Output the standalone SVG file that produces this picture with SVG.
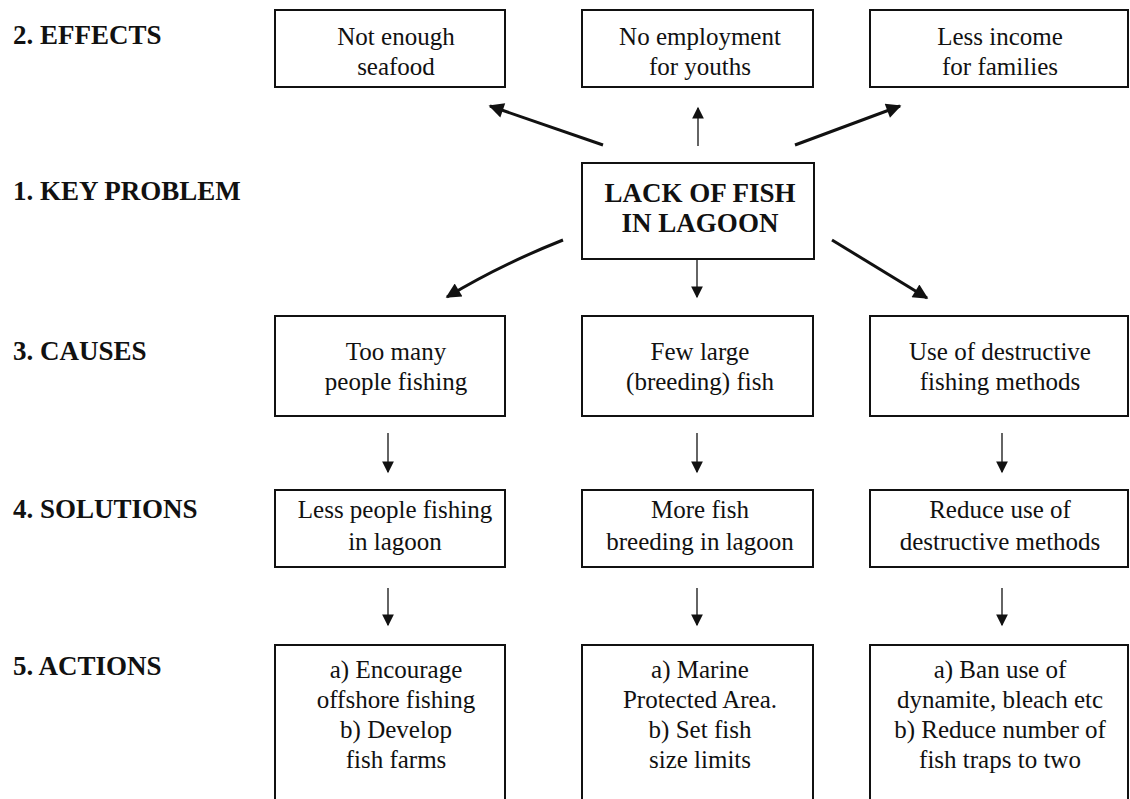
<svg xmlns="http://www.w3.org/2000/svg" width="1130" height="799" viewBox="0 0 1130 799">
<style>
.box{fill:#fff;stroke:#111;stroke-width:2}
.t{font-family:"Liberation Serif","Times New Roman",serif;font-size:25px;fill:#111;text-anchor:middle}
.kt{font-family:"Liberation Serif","Times New Roman",serif;font-size:27px;font-weight:bold;fill:#111;text-anchor:middle}
.lbl{font-family:"Liberation Serif","Times New Roman",serif;font-size:27px;font-weight:bold;fill:#111}
.thick{fill:none;stroke:#111;stroke-width:3}
.thin{fill:none;stroke:#111;stroke-width:1.3}
</style>
<defs>
<marker id="big" viewBox="0 0 10 10" refX="9" refY="5" markerWidth="6" markerHeight="5" orient="auto" markerUnits="strokeWidth">
<path d="M0,0 L10,5 L0,10 z" fill="#111"/>
</marker>
<marker id="small" viewBox="0 0 10 10" refX="9" refY="5" markerWidth="11" markerHeight="9" orient="auto" markerUnits="strokeWidth">
<path d="M0,0 L10,5 L0,10 z" fill="#111"/>
</marker>
</defs>

<g id="labels">
<text class="lbl" x="13" y="44">2. EFFECTS</text>
<text class="lbl" x="13" y="200">1. KEY PROBLEM</text>
<text class="lbl" x="13" y="360">3. CAUSES</text>
<text class="lbl" x="13" y="518">4. SOLUTIONS</text>
<text class="lbl" x="13" y="675">5. ACTIONS</text>
</g>

<g id="effect1"><rect class="box" x="275" y="10" width="230" height="77"/>
<text class="t" x="396" y="45">Not enough</text><text class="t" x="396" y="75">seafood</text></g>
<g id="effect2"><rect class="box" x="582" y="10" width="231" height="77"/>
<text class="t" x="700" y="45">No employment</text><text class="t" x="700" y="75">for youths</text></g>
<g id="effect3"><rect class="box" x="870" y="10" width="258" height="77"/>
<text class="t" x="1000" y="45">Less income</text><text class="t" x="1000" y="75">for families</text></g>

<g id="key"><rect class="box" x="582" y="163" width="232" height="96"/>
<text class="kt" x="700" y="202">LACK OF FISH</text><text class="kt" x="700" y="232">IN LAGOON</text></g>

<g id="cause1"><rect class="box" x="275" y="316" width="230" height="100"/>
<text class="t" x="396" y="360">Too many</text><text class="t" x="396" y="390">people fishing</text></g>
<g id="cause2"><rect class="box" x="582" y="316" width="231" height="100"/>
<text class="t" x="700" y="360">Few large</text><text class="t" x="700" y="390">(breeding) fish</text></g>
<g id="cause3"><rect class="box" x="870" y="316" width="258" height="100"/>
<text class="t" x="1000" y="360">Use of destructive</text><text class="t" x="1000" y="390">fishing methods</text></g>

<g id="solution1"><rect class="box" x="275" y="490" width="230" height="77"/>
<text class="t" x="395" y="518">Less people fishing</text><text class="t" x="395" y="550">in lagoon</text></g>
<g id="solution2"><rect class="box" x="582" y="490" width="231" height="77"/>
<text class="t" x="700" y="518">More fish</text><text class="t" x="700" y="550">breeding in lagoon</text></g>
<g id="solution3"><rect class="box" x="870" y="490" width="258" height="77"/>
<text class="t" x="1000" y="518">Reduce use of</text><text class="t" x="1000" y="550">destructive methods</text></g>

<g id="action1"><path class="box" d="M275,812 V645 H505 V812"/>
<text class="t" x="396" y="678">a) Encourage</text><text class="t" x="396" y="708">offshore fishing</text>
<text class="t" x="396" y="738">b) Develop</text><text class="t" x="396" y="768">fish farms</text></g>
<g id="action2"><path class="box" d="M582,812 V645 H813 V812"/>
<text class="t" x="700" y="678">a) Marine</text><text class="t" x="700" y="708">Protected Area.</text>
<text class="t" x="700" y="738">b) Set fish</text><text class="t" x="700" y="768">size limits</text></g>
<g id="action3"><path class="box" d="M870,812 V645 H1128 V812"/>
<text class="t" x="1000" y="678">a) Ban use of</text><text class="t" x="1000" y="708">dynamite, bleach etc</text>
<text class="t" x="1000" y="738">b) Reduce number of</text><text class="t" x="1000" y="768">fish traps to two</text></g>

<g id="connectors">
<line class="thick" x1="603" y1="145" x2="490" y2="106" marker-end="url(#big)"/>
<line class="thin" x1="698" y1="146" x2="698" y2="108" marker-end="url(#small)"/>
<line class="thick" x1="795" y1="145" x2="900" y2="106" marker-end="url(#big)"/>
<path class="thick" d="M563,240 Q500,265 447,297" marker-end="url(#big)"/>
<line class="thin" x1="697" y1="260" x2="697" y2="297" marker-end="url(#small)"/>
<line class="thick" x1="832" y1="240" x2="927" y2="298" marker-end="url(#big)"/>
<line class="thin" x1="388" y1="433" x2="388" y2="472" marker-end="url(#small)"/>
<line class="thin" x1="697" y1="433" x2="697" y2="472" marker-end="url(#small)"/>
<line class="thin" x1="1002" y1="433" x2="1002" y2="472" marker-end="url(#small)"/>
<line class="thin" x1="388" y1="588" x2="388" y2="625" marker-end="url(#small)"/>
<line class="thin" x1="697" y1="588" x2="697" y2="625" marker-end="url(#small)"/>
<line class="thin" x1="1002" y1="588" x2="1002" y2="625" marker-end="url(#small)"/>
</g>
</svg>
